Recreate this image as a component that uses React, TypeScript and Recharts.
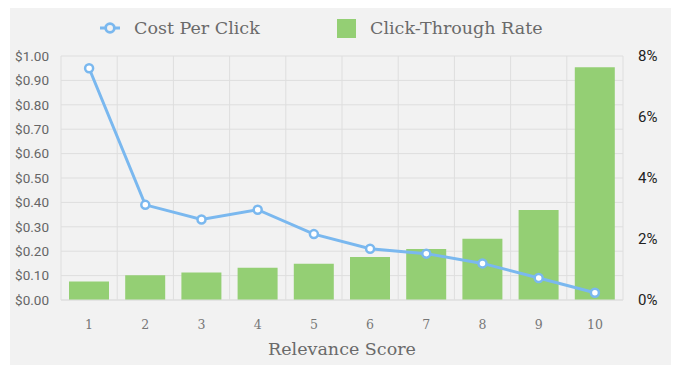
import { Bar, CartesianGrid, ComposedChart, Legend, Line, XAxis, YAxis } from 'recharts';

const scores = ['1', '2', '3', '4', '5', '6', '7', '8', '9', '10'];
const costPerClick = [0.95, 0.39, 0.33, 0.37, 0.27, 0.21, 0.19, 0.15, 0.09, 0.03];
const clickThroughRate = [0.61, 0.81, 0.9, 1.06, 1.19, 1.41, 1.67, 2.01, 2.95, 7.63];
const cpcTicks = [0, 0.1, 0.2, 0.3, 0.4, 0.5, 0.6, 0.7, 0.8, 0.9, 1.0];
const ctrTicks = [0, 2, 4, 6, 8];

const data = scores.map((score, i) => ({ score, cpc: costPerClick[i], ctr: clickThroughRate[i] }));

const blue = '#7ab8ef';
const green = '#94cf74';
const gridColor = '#dedede';
const slab = '"DejaVu Serif", serif';
const sans = 'Roboto, sans-serif';

function LegendContent({ payload }: any) {
  const items = [...(payload || [])].sort((a: any) => (a.dataKey === 'cpc' ? -1 : 1));
  return (
    <div style={{ display: 'flex', alignItems: 'center', fontFamily: slab, fontSize: 17.5, color: '#6a6a6a' }}>
      {items.map((item: any) => (
        <div key={item.dataKey} style={{ display: 'flex', alignItems: 'center', width: 237 }}>
          {item.dataKey === 'cpc' ? (
            <svg width={20} height={20} viewBox="0 0 32 32">
              <path
                d="M0,16h9A7,7,0,1,1,23,16H32M23,16A7,7,0,1,1,9,16"
                fill="none"
                stroke={blue}
                strokeWidth={4.5}
              />
            </svg>
          ) : (
            <div style={{ width: 19, height: 19, background: green }} />
          )}
          <span style={{ marginLeft: 14 }}>{item.value}</span>
        </div>
      ))}
    </div>
  );
}

export default function App() {
  return (
    <div style={{ width: 676, height: 369, background: '#fff', position: 'relative' }}>
      <style>{'body{margin:0}'}</style>
      <div style={{ position: 'absolute', left: 10, top: 8, width: 661, height: 357, background: '#f2f2f2' }}>
        <ComposedChart width={661} height={357} data={data} margin={{ top: 48, right: 0, bottom: 0, left: 0 }}>
          <CartesianGrid
            yAxisId="cpc"
            stroke={gridColor}
            verticalCoordinatesGenerator={({ offset }: any) =>
              Array.from({ length: scores.length + 1 }, (_, i) => offset.left + (offset.width * i) / scores.length)
            }
          />
          <XAxis
            dataKey="score"
            height={65}
            tickLine={false}
            axisLine={{ stroke: gridColor }}
            tickMargin={14}
            tick={{ fill: '#777', fontSize: 12.5, fontFamily: slab }}
            label={{ value: 'Relevance Score', position: 'insideBottom', offset: 10, fill: '#6a6a6a', fontSize: 17.5, fontFamily: slab }}
          />
          <YAxis
            yAxisId="cpc"
            width={51}
            domain={[0, 1]}
            ticks={cpcTicks}
            tickLine={false}
            axisLine={false}
            tickSize={0}
            tickMargin={12}
            tickFormatter={(v: number) => `$${v.toFixed(2)}`}
            tick={{ fill: '#666', fontSize: 13.5, fontFamily: sans }}
          />
          <YAxis
            yAxisId="ctr"
            orientation="right"
            width={48}
            domain={[0, 8]}
            ticks={ctrTicks}
            tickLine={false}
            axisLine={false}
            tickSize={0}
            tickMargin={15}
            tickFormatter={(v: number) => `${v}%`}
            tick={{ fill: '#222', fontSize: 15, fontFamily: sans }}
          />
          <Legend
            verticalAlign="middle"
            layout="horizontal"
            content={<LegendContent />}
            wrapperStyle={{ top: 10, left: 90, width: 'auto' }}
          />
          <Bar yAxisId="ctr" dataKey="ctr" name="Click-Through Rate" fill={green} barSize={40} isAnimationActive={false} />
          <Line
            yAxisId="cpc"
            dataKey="cpc"
            name="Cost Per Click"
            type="linear"
            stroke={blue}
            strokeWidth={3}
            dot={{ r: 4, fill: '#fff', stroke: blue, strokeWidth: 2.5 }}
            isAnimationActive={false}
          />
        </ComposedChart>
      </div>
    </div>
  );
}
